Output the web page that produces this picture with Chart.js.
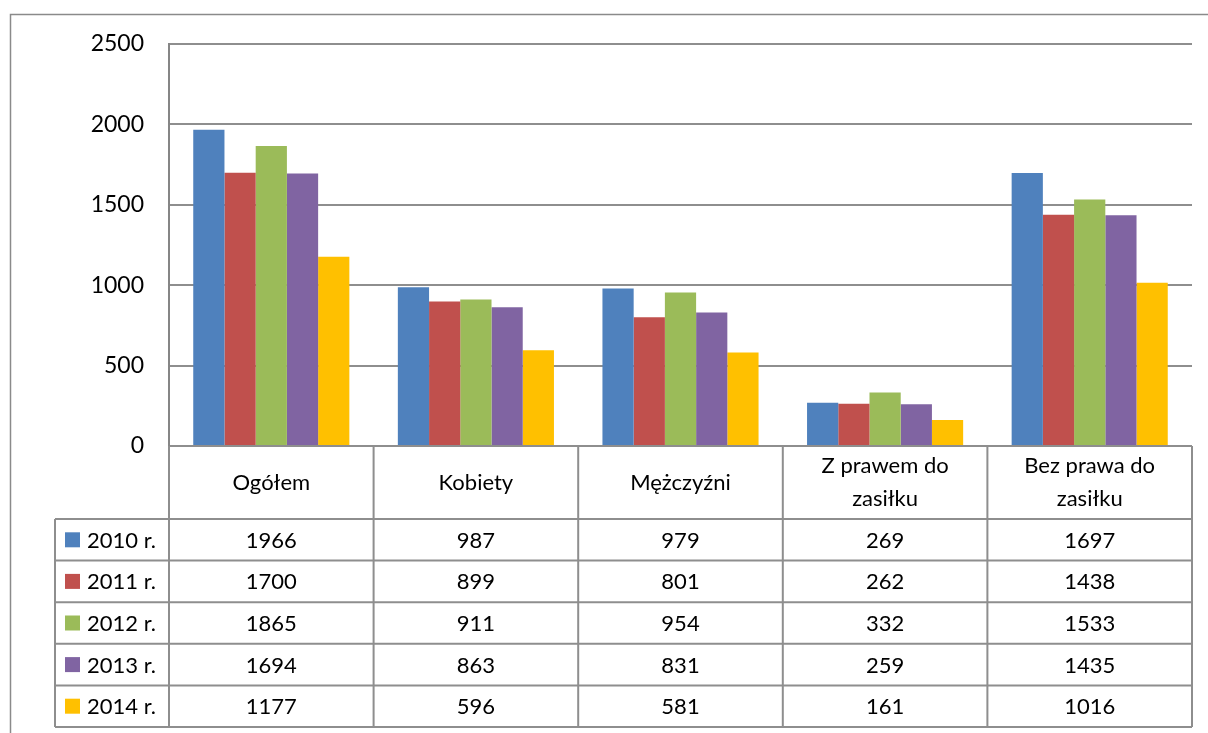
<!DOCTYPE html>
<html>
<head>
<meta charset="utf-8">
<script src="https://cdn.jsdelivr.net/npm/chart.js@4/dist/chart.umd.min.js"></script>
<style>
  html, body { margin: 0; padding: 0; background: #fff; }
  #wrap { width: 1208px; height: 733px; }
</style>
</head>
<body>
<div id="wrap"><canvas id="chart" width="1208" height="733"></canvas></div>
<script>
const categories = ['Ogółem', 'Kobiety', 'Mężczyźni', ['Z prawem do', 'zasiłku'], ['Bez prawa do', 'zasiłku']]
const seriesNames = ['2010 r.', '2011 r.', '2012 r.', '2013 r.', '2014 r.']
const y2010 = [1966, 987, 979, 269, 1697]
const y2011 = [1700, 899, 801, 262, 1438]
const y2012 = [1865, 911, 954, 332, 1533]
const y2013 = [1694, 863, 831, 259, 1435]
const y2014 = [1177, 596, 581, 161, 1016]
const yTicks = [0, 500, 1000, 1500, 2000, 2500]

const colors = ['#4F81BD', '#C0504D', '#9BBB59', '#8064A2', '#FFC000']
const allSeries = [y2010, y2011, y2012, y2013, y2014]
const FONT = 'Lato, "Liberation Sans", sans-serif'
const LINE = '#8e8e8e'

// table geometry (below the plot area)
const headerH = 73
const rowH = 41.6
const legendLeft = 55

const frame = {
  id: 'frame',
  beforeDraw(chart) {
    const c = chart.ctx
    c.save()
    c.fillStyle = '#fff'
    c.fillRect(0, 0, chart.width, chart.height)
    c.strokeStyle = '#8a8a8a'
    c.lineWidth = 1.5
    c.strokeRect(10.5, 14.5, 1400, 900)
    c.restore()
  },
}

const dataTable = {
  id: 'dataTable',
  afterDraw(chart) {
    const c = chart.ctx
    const area = chart.chartArea
    const x = chart.scales.x
    const n = categories.length
    const colW = (area.right - area.left) / n
    const top = area.bottom
    const rowsTop = top + headerH
    const bottom = rowsTop + rowH * seriesNames.length

    c.save()
    c.strokeStyle = LINE
    c.lineWidth = 2
    c.beginPath()
    // vertical lines
    for (let i = 0; i <= n; i++) {
      const xx = area.left + i * colW
      c.moveTo(xx, top)
      c.lineTo(xx, bottom)
    }
    c.moveTo(legendLeft, rowsTop)
    c.lineTo(legendLeft, bottom)
    // horizontal lines
    for (let r = 0; r <= seriesNames.length; r++) {
      const yy = rowsTop + r * rowH
      c.moveTo(legendLeft, yy)
      c.lineTo(area.right, yy)
    }
    c.stroke()

    c.fillStyle = '#000'
    c.font = '22px ' + FONT
    c.textAlign = 'center'
    c.textBaseline = 'middle'
    // header labels
    categories.forEach((label, i) => {
      const cx = x.getPixelForValue(i)
      const lines = Array.isArray(label) ? label : [label]
      const midY = top + headerH / 2
      lines.forEach((ln, k) => {
        const yy = midY + (k - (lines.length - 1) / 2) * 33
        c.fillText(ln, cx, yy)
      })
    })
    // values + legend
    allSeries.forEach((vals, r) => {
      const cy = rowsTop + r * rowH + rowH / 2
      c.fillStyle = colors[r]
      c.fillRect(65, cy - 7.5, 15, 15)
      c.fillStyle = '#000'
      c.textAlign = 'left'
      c.fillText(seriesNames[r], 87, cy + 1)
      c.textAlign = 'center'
      vals.forEach((v, i) => {
        c.fillText(String(v), x.getPixelForValue(i), cy + 1)
      })
    })
    c.restore()
  },
}

new Chart(document.getElementById('chart'), {
  type: 'bar',
  data: {
    labels: categories,
    datasets: allSeries.map((vals, i) => ({
      label: seriesNames[i],
      data: vals,
      backgroundColor: colors[i],
      borderWidth: 0,
      categoryPercentage: 0.763,
      barPercentage: 1,
    })),
  },
  options: {
    responsive: false,
    animation: false,
    layout: { padding: { left: 0, top: 44, right: 16, bottom: 287 } },
    plugins: { legend: { display: false }, tooltip: { enabled: false } },
    scales: {
      x: { display: false },
      y: {
        min: 0,
        max: 2500,
        afterBuildTicks: (scale) => {
          scale.ticks = yTicks.map((v) => ({ value: v }))
        },
        afterFit: (scale) => {
          scale.width = 169
        },
        grid: { color: LINE, lineWidth: 2, drawTicks: false },
        border: { color: '#868686', width: 2 },
        ticks: {
          color: '#000',
          padding: 25,
          font: { family: FONT, size: 23 },
          callback: (v) => String(v),
        },
      },
    },
  },
  plugins: [frame, dataTable],
})
</script>
</body>
</html>
